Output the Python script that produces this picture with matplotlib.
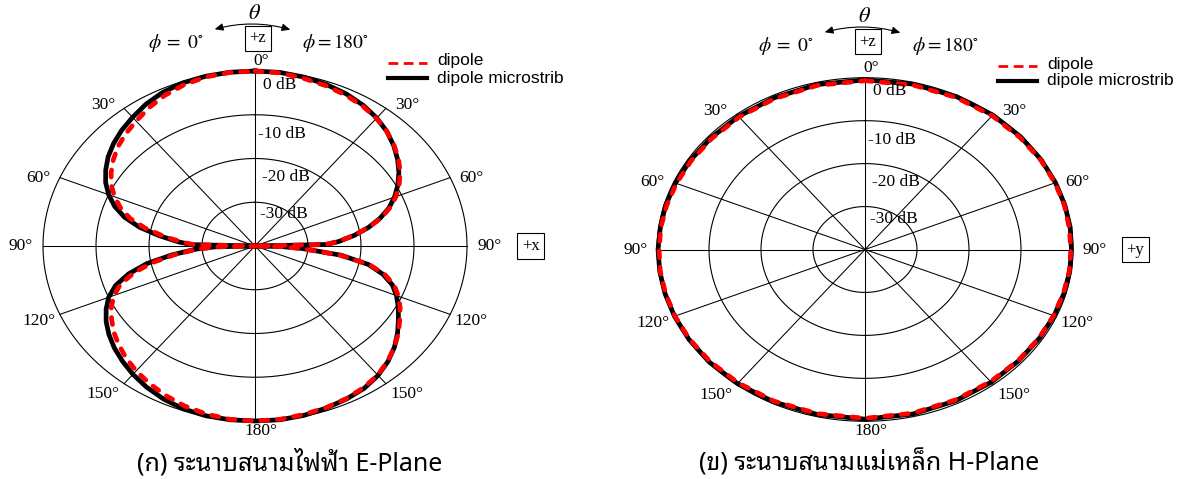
import numpy as np
import matplotlib
matplotlib.use('Agg')
import matplotlib.pyplot as plt
from matplotlib import font_manager
from matplotlib.ft2font import FT2Font
from matplotlib.lines import Line2D
from matplotlib.patches import FancyArrowPatch

plt.rcParams['mathtext.fontset'] = 'stix'

# E-plane, angle clockwise from +z (0..180 = right half, 180..360 = left half), gain in dB
e_angle = ([0, 5, 10, 15, 20, 25, 30, 35, 40, 45, 50, 55, 60, 65, 70, 75, 80, 85, 88, 90]
           + [92, 95, 100, 105, 110, 115, 120, 125, 130, 135, 140, 145, 150, 155, 160, 165, 170, 175, 180]
           + [185, 190, 195, 200, 205, 210, 215, 220, 225, 230, 235, 240, 245, 250, 255, 260, 265, 268, 270]
           + [272, 275, 280, 285, 290, 295, 300, 305, 310, 315, 320, 325, 330, 335, 340, 345, 350, 355, 360])
e_dipole = ([0.0, -0.15, -0.6, -1.0, -1.5, -2.1, -2.9, -3.9, -5.1, -6.4, -7.8, -9.4, -11.1, -13.1, -15.4, -18.2, -21.2, -24.4, -26.8, -40.0]
            + [-35.5, -31.5, -24.0, -18.0, -14.6, -12.2, -10.6, -9.2, -7.9, -6.4, -5.0, -3.7, -2.5, -1.7, -1.1, -0.7, -0.4, -0.1, 0.0]
            + [-0.1, -0.5, -1.1, -1.9, -2.8, -3.7, -4.7, -5.8, -6.9, -8.2, -9.5, -11.1, -13.2, -16.4, -20.2, -24.8, -29.2, -33.0, -40.0]
            + [-28.5, -26.2, -22.6, -18.9, -15.6, -13.2, -11.2, -9.5, -8.1, -6.8, -5.6, -4.6, -3.7, -2.6, -1.6, -0.8, -0.25, -0.05, 0.0])
e_micro = ([0.0, -0.05, -0.3, -0.7, -1.2, -1.9, -2.8, -3.9, -5.2, -6.6, -8.1, -9.7, -11.4, -13.3, -15.6, -18.2, -21.1, -24.2, -26.5, -40.0]
           + [-35.0, -31.0, -23.6, -18.2, -15.0, -12.6, -11.0, -9.6, -8.2, -6.6, -5.0, -3.6, -2.4, -1.5, -1.0, -0.6, -0.2, 0.0, 0.0]
           + [0.0, -0.1, -0.4, -1.0, -1.8, -2.7, -3.7, -4.7, -5.8, -7.0, -8.4, -10.0, -12.2, -15.3, -19.2, -24.2, -28.8, -32.5, -40.0]
           + [-28.0, -25.6, -21.8, -17.8, -14.5, -12.0, -10.0, -8.3, -6.9, -5.6, -4.5, -3.5, -2.6, -1.6, -0.8, -0.3, -0.1, 0.0, 0.0])

# H-plane
h_angle = list(range(0, 370, 10))
h_dipole = [-0.7, -0.6, -0.5, -0.4, -0.4, -0.3, -0.3, -0.3, -0.4, -0.4, -0.4, -0.5, -0.6,
            -0.7, -0.8, -0.9, -0.9, -0.8, -0.7, -0.7, -0.6, -0.5, -0.4, -0.3, -0.3, -0.3,
            -0.3, -0.4, -0.4, -0.5, -0.6, -0.7, -0.8, -0.8, -0.8, -0.7, -0.7]
h_micro = [-0.5, -0.4, -0.3, -0.2, -0.2, -0.2, -0.2, -0.2, -0.2, -0.3, -0.3, -0.4, -0.5,
           -0.6, -0.7, -0.7, -0.7, -0.6, -0.5, -0.5, -0.4, -0.3, -0.2, -0.2, -0.2, -0.2,
           -0.2, -0.2, -0.3, -0.3, -0.4, -0.5, -0.6, -0.6, -0.6, -0.5, -0.5]

ring_db = [-30, -20, -10, 0]
ring_labels = ['-30 dB', '-20 dB', '-10 dB', '0 dB']
series_names = ['dipole', 'dipole microstrib']
captions = ['(ก) ระนาบสนามไฟฟ้า E-Plane', '(ข) ระนาบสนามแม่เหล็ก H-Plane']

W, H = 1184, 479
K = 1.36  # angular stretch of the original drawing


def to_xy(ang, db):
    t = np.radians(np.asarray(ang, float))
    p = np.arctan2(K * np.sin(t), np.cos(t))
    r = np.clip((np.asarray(db, float) + 40) / 40, 0, None)
    return r * np.sin(p), r * np.cos(p)


def fp(x, y):
    return x / W, 1 - y / H


# find a font with Thai glyphs
thai_font = None
cands = []
for f in font_manager.fontManager.ttflist:
    try:
        if 0x0E01 in FT2Font(f.fname).get_charmap():
            cands.append(f.name)
    except Exception:
        pass
for pref in ['Noto Sans Thai', 'Loma', 'Garuda', 'Tlwg', 'Sans']:
    m = [c for c in cands if pref in c]
    if m:
        thai_font = m[0]
        break
if thai_font is None and cands:
    thai_font = cands[0]
cap_family = [thai_font, 'DejaVu Sans'] if thai_font else ['DejaVu Sans']

serif = 'Liberation Serif'
sans = 'Liberation Sans'

fig = plt.figure(figsize=(W / 100, H / 100), dpi=100)


def panel(cx, cy, rx, ry, data, axis_txt):
    ax = fig.add_axes([(cx - rx) / W, 1 - (cy + ry) / H, 2 * rx / W, 2 * ry / H])
    ax.set_xlim(-1, 1)
    ax.set_ylim(-1, 1)
    ax.axis('off')
    s = np.linspace(0, 360, 721)
    for d in ring_db:
        x, y = to_xy(s, np.full_like(s, d))
        ax.plot(x, y, color='k', lw=0.8, clip_on=False)
    for a in range(0, 360, 30):
        x, y = to_xy(a, 0)
        ax.plot([0, x], [0, y], color='k', lw=0.75, clip_on=False)
    for a in range(0, 360, 30):
        lab = a if a <= 180 else 360 - a
        x, y = to_xy(a, 0)
        if a in (0, 180):
            tx, ty = 0.03, 1.055 * np.sign(y)
        elif a in (90, 270):
            tx, ty = 1.105 * np.sign(x), 0
        else:
            tx, ty = x + 0.1 * np.sign(x), 1.05 * y - 0.02
        ax.text(tx, ty, f'{lab}°', ha='center', va='center', fontsize=12.5, family=serif)
    lab_x = [0.024, 0.035, 0.016, 0.04]
    lab_y = [0.18, 0.395, 0.638, 0.92]
    for t, lx, ly in zip(ring_labels, lab_x, lab_y):
        ax.text(lx, ly, t, ha='left', va='center', fontsize=12.5, family=serif)
    ax.text(1.3, 0, axis_txt, ha='center', va='center', fontsize=12, family=serif,
            bbox=dict(boxstyle='square,pad=0.28', fc='white', ec='k', lw=0.8))
    ang, d1, d2 = data
    x, y = to_xy(ang, d2)
    ax.plot(x, y, color='k', lw=3.4, clip_on=False, solid_joinstyle='round')
    x, y = to_xy(ang, d1)
    ax.plot(x, y, color='#ff0000', lw=3.4, ls=(0, (1.5, 2.0)), dash_capstyle='round',
            clip_on=False)
    return ax


panel(255, 246, 212, 175, (e_angle, e_dipole, e_micro), '+x')
panel(865, 249.5, 208, 171.8, (h_angle, h_dipole, h_micro), '+y')


def header(cx, y0, lx):
    # theta arrow, +z box and phi labels
    fig.text(*fp(cx, y0 + 13), r'$\theta$', ha='center', va='center', fontsize=16)
    arr = FancyArrowPatch(fp(cx - 43, y0 + 30), fp(cx + 38, y0 + 30.5),
                          transform=fig.transFigure, connectionstyle='arc3,rad=-0.15',
                          arrowstyle='<|-|>,head_length=0.5,head_width=0.22',
                          mutation_scale=10, lw=0.8, color='k')
    fig.add_artist(arr)
    fig.text(*fp(cx + 3, y0 + 38.5), '+z', ha='center', va='center', fontsize=12, family=serif,
             bbox=dict(boxstyle='square,pad=0.25', fc='white', ec='k', lw=0.8))
    fig.text(*fp(cx - 79, y0 + 43), r'$\phi\;=\;0^{\circ}$', ha='center', va='center', fontsize=14)
    fig.text(*fp(cx + 80, y0 + 43), r'$\phi=180^{\circ}$', ha='center', va='center', fontsize=14)
    # legend
    fig.add_artist(Line2D([lx / W, (lx + 39) / W], [1 - (y0 + 63) / H] * 2, color='#ff0000',
                          lw=2, ls=(0, (3.5, 2.0)), transform=fig.transFigure))
    fig.add_artist(Line2D([lx / W, (lx + 39) / W], [1 - (y0 + 78) / H] * 2, color='k',
                          lw=3, transform=fig.transFigure))
    fig.text(*fp(lx + 49, y0 + 61), series_names[0], ha='left', va='center', fontsize=12.5, family=sans)
    fig.text(*fp(lx + 49, y0 + 78), series_names[1], ha='left', va='center', fontsize=12.5, family=sans)


header(255, 0, 388)
header(865, 3, 998)

fig.text(*fp(290, 463), captions[0], ha='center', va='center', fontsize=18, family=cap_family)
fig.text(*fp(869, 463), captions[1], ha='center', va='center', fontsize=18, family=cap_family)

fig.savefig('out.png', dpi=100)
